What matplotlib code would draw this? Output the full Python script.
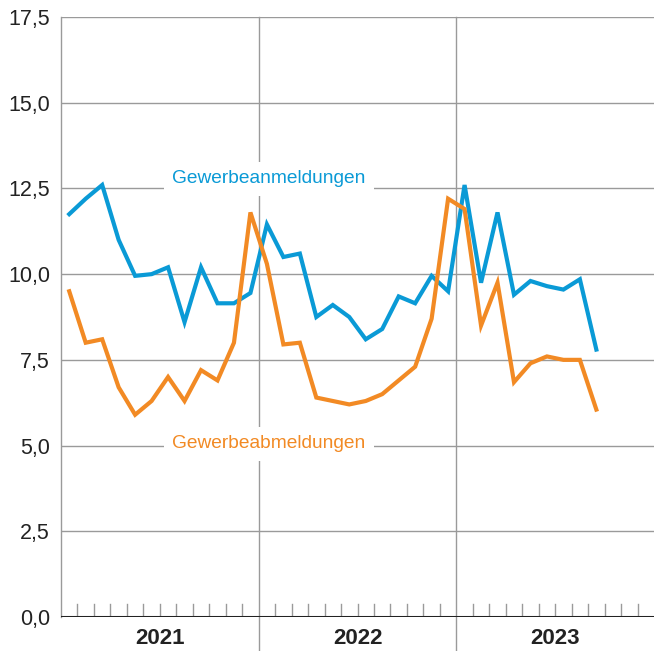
import numpy as np
import matplotlib
matplotlib.use("Agg")
import matplotlib.pyplot as plt

plt.rcParams['font.family'] = ['Liberation Sans', 'DejaVu Sans']

# monthly values, Jan 2021 .. Sep 2023
years = ["2021", "2022", "2023"]
anmeldungen = [11.75, 12.2, 12.6, 11.0, 9.95, 10.0, 10.2, 8.6, 10.2, 9.15, 9.15, 9.45,
               11.45, 10.5, 10.6, 8.75, 9.1, 8.75, 8.1, 8.4, 9.35, 9.15, 9.95, 9.5,
               12.6, 9.75, 11.8, 9.4, 9.8, 9.65, 9.55, 9.85, 7.8]
abmeldungen = [9.5, 8.0, 8.1, 6.7, 5.9, 6.3, 7.0, 6.3, 7.2, 6.9, 8.0, 11.8,
               10.3, 7.95, 8.0, 6.4, 6.3, 6.2, 6.3, 6.5, 6.9, 7.3, 8.7, 12.2,
               11.9, 8.5, 9.75, 6.85, 7.4, 7.6, 7.5, 7.5, 6.05]
yticks = [0, 2.5, 5, 7.5, 10, 12.5, 15, 17.5]

blue = "#0a9ad6"
orange = "#f28a24"
grid_c = "#9a9a9a"
text_c = "#222222"

fig = plt.figure(figsize=(6.54, 6.51), dpi=100)
ax = fig.add_axes([61 / 654, 34 / 651, 593 / 654, 600 / 651])

x = np.arange(len(anmeldungen)) + 0.5
ax.plot(x, anmeldungen, color=blue, lw=3, zorder=4, solid_joinstyle='miter')
ax.plot(np.arange(len(abmeldungen)) + 0.5, abmeldungen, color=orange, lw=3,
        zorder=5, solid_joinstyle='miter')

ax.set_xlim(0, 36)
ax.set_ylim(0, 17.5)

# horizontal grid
for v in yticks[1:]:
    ax.axhline(v, color=grid_c, lw=1, zorder=1)
ax.axhline(0, color=text_c, lw=2.2, zorder=6)

# year separators extending below the axis
for b in [12, 24]:
    ax.plot([b, b], [-0.06, 1], transform=ax.get_xaxis_transform(),
            color=grid_c, lw=1, zorder=1, clip_on=False)

# month ticks
for m in range(1, 36):
    if m % 12 == 0:
        continue
    ax.plot([m, m], [0, 0.38], color=grid_c, lw=1, zorder=2)

ax.set_yticks(yticks)
ax.set_yticklabels([f"{v:.1f}".replace('.', ',') for v in yticks],
                   fontsize=15.5, color=text_c)
ax.tick_params(axis='y', length=0, pad=8)
ax.set_xticks([])
for i, yr in enumerate(years):
    ax.text(i * 12 + 6, -0.035, yr, transform=ax.get_xaxis_transform(),
            ha='center', va='center', fontsize=16, fontweight='bold', color=text_c)

for s in ['top', 'right', 'bottom']:
    ax.spines[s].set_visible(False)
ax.spines['left'].set_color(grid_c)
ax.spines['left'].set_linewidth(1)

box = dict(facecolor='white', edgecolor='none', pad=6)
ax.text(6.74, 12.78, "Gewerbeanmeldungen", color=blue, fontsize=13.8,
        va='center', ha='left', bbox=box, zorder=3)
ax.text(6.74, 5.05, "Gewerbeabmeldungen", color=orange, fontsize=13.8,
        va='center', ha='left', bbox=box, zorder=3)

fig.savefig("out.png", dpi=100)
